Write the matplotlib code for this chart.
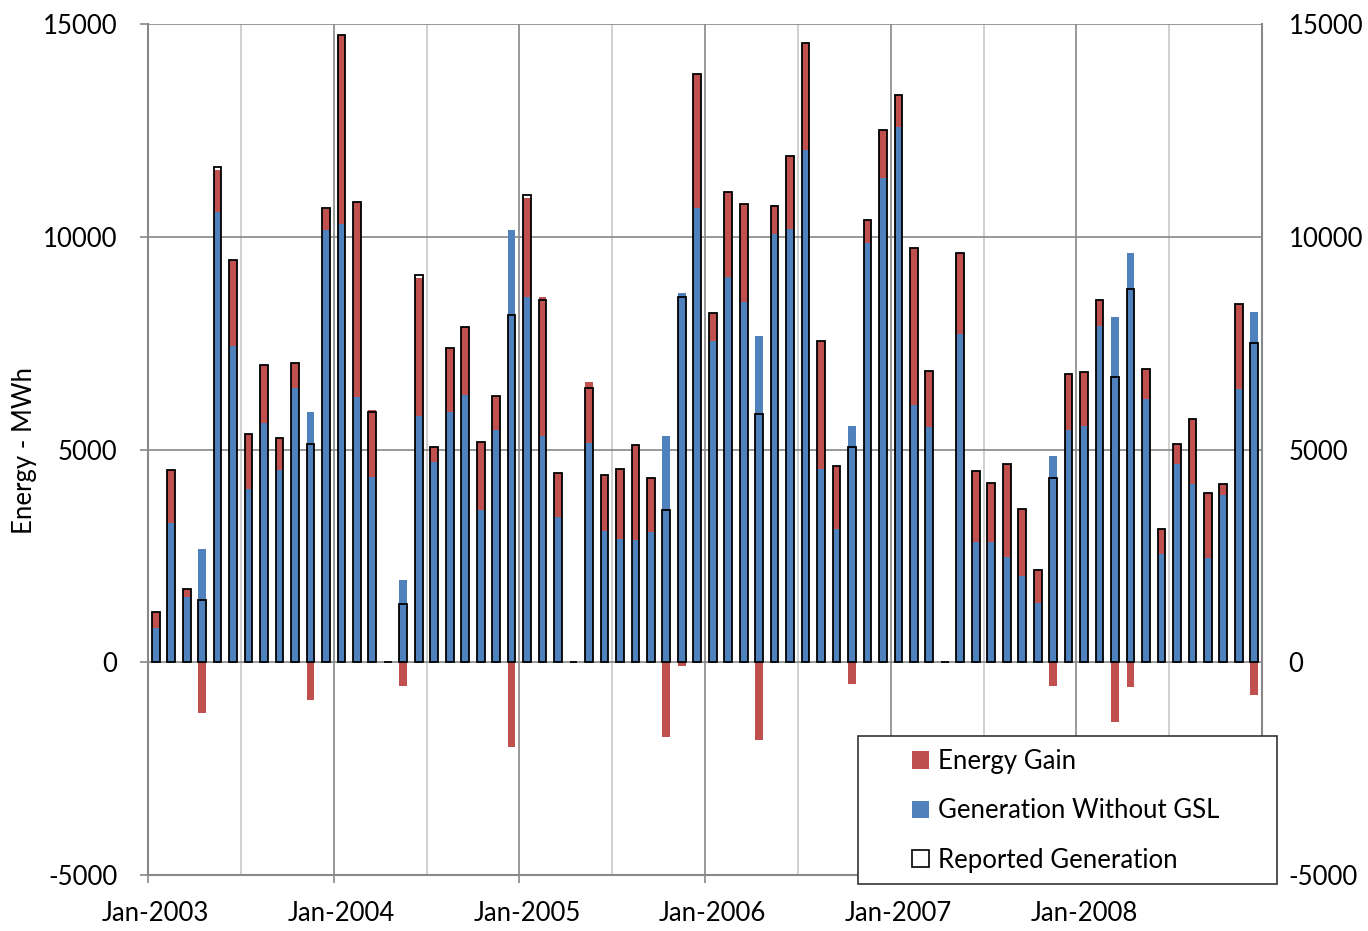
import matplotlib.pyplot as plt
import numpy as np
from matplotlib.patches import Patch, Rectangle

plt.rcParams['font.family'] = ['Lato', 'DejaVu Sans']
plt.rcParams['axes.unicode_minus'] = False

years = [2003, 2004, 2005, 2006, 2007, 2008]

# monthly values in MWh, Jan-2003 .. Dec-2008
gen_without_gsl = [
    810, 3270, 1530, 2660, 10580, 7430, 4080, 5620, 4520, 6450, 5890, 10170,
    10300, 6240, 4360, 0, 1930, 5790, 4700, 5870, 6270, 3580, 5460, 10170,
    8590, 5320, 3420, 0, 5150, 3090, 2890, 2870, 3060, 5320, 8670, 10670,
    7540, 9050, 8470, 7660, 10070, 10180, 12050, 4540, 3130, 5560, 9860, 11370,
    12570, 6050, 5530, 0, 7710, 2830, 2830, 2480, 2020, 1390, 4850, 5460,
    5560, 7910, 8110, 9620, 6190, 2540, 4650, 4200, 2460, 3940, 6420, 8230,
]
energy_gain = [
    380, 1250, 200, -1200, 990, 2020, 1290, 1370, 740, 580, -880, 480,
    4450, 4580, 1560, 0, -550, 3250, 350, 1520, 1620, 1590, 800, -2000,
    2330, 3260, 1020, 0, 1440, 1320, 1640, 2230, 1260, -1760, -90, 3160,
    660, 2010, 2310, -1820, 670, 1720, 2510, 3020, 1490, -520, 540, 1130,
    750, 3680, 1320, 0, 1900, 1670, 1380, 2170, 1570, 770, -550, 1320,
    1250, 610, -1410, -570, 700, 600, 490, 1510, 1520, 240, 2010, -760,
]
reported = [
    1190, 4520, 1730, 1456, 11640, 9450, 5370, 6990, 5260, 7030, 5140, 10680,
    14750, 10820, 5880, 0, 1370, 9090, 5050, 7390, 7890, 5170, 6260, 8170,
    10970, 8520, 4440, 0, 6440, 4400, 4530, 5100, 4330, 3570, 8580, 13830,
    8200, 11060, 10780, 5830, 10730, 11900, 14560, 7560, 4620, 5050, 10400, 12500,
    13320, 9730, 6850, 0, 9610, 4500, 4210, 4650, 3590, 2160, 4330, 6780,
    6810, 8520, 6700, 8780, 6890, 3140, 5140, 5710, 3980, 4180, 8430, 7500,
]

blue = np.array(gen_without_gsl, dtype=float)
gain = np.array(energy_gain, dtype=float)
rep = np.array(reported, dtype=float)
x = np.arange(len(blue)) + 0.5

RED = '#C0504D'
BLUE = '#4F81BD'
GRID = '#888888'
LIGHT = '#C8C8C8'
FS = 18.5

fig = plt.figure(figsize=(13.68, 9.31), dpi=100)
ax = fig.add_axes([148 / 1368, 1 - 875 / 931, 1114 / 1368, 851 / 931])

w = 0.5
ax.bar(x, blue, width=w, color=BLUE, zorder=3)
ax.bar(x, gain, width=w, bottom=np.where(gain > 0, blue, 0), color=RED, zorder=3)
ax.bar(x, rep, width=w, facecolor='none', edgecolor='black', linewidth=1.3, zorder=4)

ax.set_xlim(0, 72)
ax.set_ylim(-5000, 15000)
ax.set_yticks([-5000, 0, 5000, 10000, 15000])
ax.yaxis.grid(True, color=GRID, linewidth=1.2, zorder=0)
for m in range(0, 73, 12):
    ax.axvline(m, color=GRID, linewidth=1.2, zorder=0)
for m in range(6, 72, 12):
    ax.axvline(m, color=LIGHT, linewidth=1.2, zorder=0)

ax.set_xticks([12 * i + 0.5 for i in range(len(years))])
ax.set_xticklabels(['Jan-%d' % y for y in years])
ax.set_xticks(range(0, 73, 12), minor=True)
ax.tick_params(axis='x', which='major', length=0, pad=19, labelsize=FS)
ax.tick_params(axis='x', which='minor', length=6, width=1.2, color=GRID)
ax.tick_params(axis='y', length=6, width=1.2, color=GRID, pad=16, labelsize=FS)

for s in ['left', 'bottom', 'right']:
    ax.spines[s].set_color(GRID)
    ax.spines[s].set_linewidth(1.5)
ax.spines['top'].set_visible(False)

ax2 = ax.twinx()
ax2.set_ylim(ax.get_ylim())
ax2.set_yticks([-5000, 0, 5000, 10000, 15000])
ax2.tick_params(axis='y', length=0, pad=19, labelsize=FS)
for s in ax2.spines.values():
    s.set_visible(False)

fig.text(25 / 1368, 1 - 450 / 931, 'Energy - MWh', rotation=90,
         ha='center', va='center', fontsize=FS)

# legend box
fig.patches.append(Rectangle((858 / 1368, 1 - 884 / 931), 419 / 1368, 148 / 931,
                             transform=fig.transFigure, facecolor='white',
                             edgecolor='#333333', linewidth=1.2, zorder=10))
handles = [Patch(facecolor=RED, edgecolor='none'),
           Patch(facecolor=BLUE, edgecolor='none'),
           Patch(facecolor='white', edgecolor='black', linewidth=1.2)]
labels = ['Energy Gain', 'Generation Without GSL', 'Reported Generation']
leg = fig.legend(handles, labels, loc='upper left',
                 bbox_to_anchor=(912 / 1368, 1 - 749 / 931), frameon=False,
                 fontsize=FS, handlelength=0.65, handleheight=0.65,
                 handletextpad=0.35, labelspacing=0.95, borderpad=0,
                 borderaxespad=0)
leg.set_zorder(11)

fig.savefig('out.png', dpi=100)
